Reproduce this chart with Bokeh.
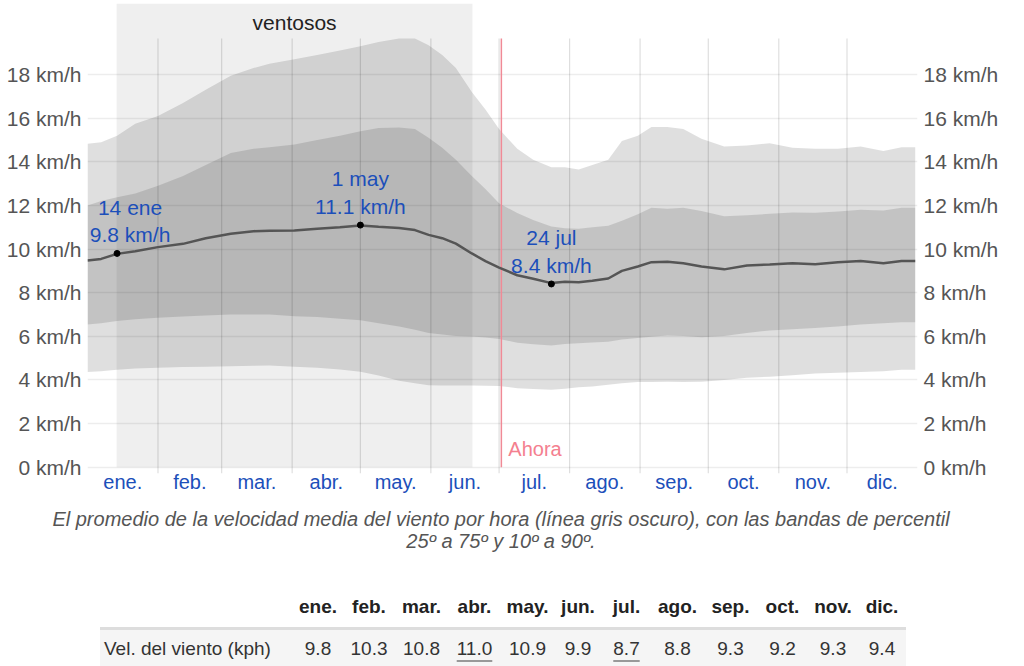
from bokeh.plotting import figure
from bokeh.models import Range1d, FixedTicker, Div, LinearAxis, PrintfTickFormatter, CustomJSTickFormatter
from bokeh.layouts import column
from bokeh.embed import file_html
from bokeh.resources import INLINE
from bokeh.core.properties import value

# ---------------- data ----------------
days = [0, 6, 13, 21, 31, 42, 52, 63, 73, 80, 91, 101, 111, 120, 128, 137, 144, 150,
        156, 162, 169, 175, 181, 189, 196, 204, 210, 216, 222, 229, 235, 242, 248, 255,
        262, 270, 280, 290, 300, 310, 320, 330, 340, 350, 358, 364]
p90 = [14.83, 14.9, 15.2, 15.75, 16.1, 16.7, 17.3, 17.95, 18.3, 18.5, 18.7, 18.9, 19.1,
       19.3, 19.5, 19.65, 19.65, 19.35, 18.9, 18.3, 17.2, 16.4, 15.5, 14.6, 14.1, 13.75,
       13.75, 13.65, 13.85, 14.1, 14.95, 15.2, 15.6, 15.6, 15.5, 15.06, 14.7, 14.75, 14.85,
       14.65, 14.6, 14.6, 14.7, 14.5, 14.67, 14.67]
p75 = [12.0, 12.2, 12.38, 12.55, 12.9, 13.35, 13.85, 14.4, 14.6, 14.67, 14.8, 15.0, 15.2,
       15.4, 15.55, 15.58, 15.5, 15.1, 14.65, 14.1, 13.35, 12.75, 12.1, 11.65, 11.33, 11.04,
       10.95, 10.93, 11.0, 11.07, 11.3, 11.6, 11.9, 11.85, 11.9, 11.75, 11.5, 11.55, 11.62,
       11.68, 11.66, 11.72, 11.8, 11.77, 11.89, 11.89]
mean = [9.48, 9.55, 9.78, 9.9, 10.09, 10.24, 10.5, 10.7, 10.82, 10.84, 10.85, 10.93, 11.0,
        11.08, 11.02, 10.97, 10.87, 10.65, 10.5, 10.25, 9.8, 9.45, 9.15, 8.8, 8.64, 8.44,
        8.5, 8.48, 8.55, 8.65, 9.0, 9.2, 9.4, 9.42, 9.35, 9.2, 9.07, 9.25, 9.29, 9.35, 9.3,
        9.4, 9.45, 9.35, 9.45, 9.45]
p25 = [6.54, 6.6, 6.7, 6.78, 6.85, 6.91, 6.95, 7.0, 7.0, 7.0, 6.92, 6.88, 6.8, 6.74, 6.6,
       6.45, 6.3, 6.15, 6.08, 6.02, 5.99, 5.95, 5.88, 5.7, 5.64, 5.58, 5.65, 5.68, 5.72, 5.75,
       5.85, 5.92, 5.98, 6.04, 6.02, 5.96, 6.02, 6.15, 6.27, 6.32, 6.38, 6.45, 6.54, 6.6,
       6.65, 6.65]
p10 = [4.36, 4.4, 4.47, 4.52, 4.56, 4.59, 4.61, 4.63, 4.65, 4.66, 4.6, 4.56, 4.48, 4.38, 4.2,
       3.96, 3.85, 3.76, 3.74, 3.75, 3.75, 3.73, 3.72, 3.62, 3.58, 3.55, 3.6, 3.66, 3.7, 3.78,
       3.85, 3.9, 3.9, 3.92, 3.9, 3.92, 4.0, 4.1, 4.15, 4.22, 4.3, 4.33, 4.36, 4.4, 4.47, 4.47]

month_names = ["ene.", "feb.", "mar.", "abr.", "may.", "jun.", "jul.", "ago.", "sep.",
               "oct.", "nov.", "dic."]
month_lengths = [31, 28, 31, 30, 31, 30, 31, 31, 30, 31, 30, 31]
y_ticks = [0, 2, 4, 6, 8, 10, 12, 14, 16, 18]

windy_start = 12.8
windy_end = 169.3
windy_label = "ventosos"
now_day = 182
now_label = "Ahora"

ann_days = [13, 120, 204]
ann_vals = [9.8, 11.1, 8.4]
ann_labels = ["14 ene\n9.8 km/h", "1 may\n11.1 km/h", "24 jul\n8.4 km/h"]
ann_xoff = [13, 0, 0]

table_label = "Vel. del viento (kph)"
table_vals = [9.8, 10.3, 10.8, 11.0, 10.9, 9.9, 8.7, 8.8, 9.3, 9.2, 9.3, 9.4]

caption_l1 = ("El promedio de la velocidad media del viento por hora (línea gris oscuro), "
              "con las bandas de percentil")
caption_l2 = "25º a 75º y 10º a 90º."

# ---------------- derived ----------------
month_starts = []
acc = 0
for L in month_lengths:
    month_starts.append(acc)
    acc += L
month_mids = [s + L / 2 for s, L in zip(month_starts, month_lengths)]
boundaries = month_starts[1:]
top_val = max(p90)

FONT = "Liberation Sans"
AX_COLOR = "#555555"
BLUE = "#1c4fba"

y_lo, y_hi = -0.29, 21.26
p = figure(frame_width=830, frame_height=470, x_range=Range1d(0, 365), y_range=Range1d(y_lo, y_hi),
           output_backend="svg", toolbar_location=None,
           min_border_left=87, min_border_right=107, min_border_top=3, min_border_bottom=30)
p.outline_line_color = None
p.background_fill_color = "white"
p.border_fill_color = "white"

# grid
p.xgrid.visible = False
p.ygrid.ticker = FixedTicker(ticks=y_ticks)
p.ygrid.grid_line_color = "#000000"
p.ygrid.grid_line_alpha = 0.07
p.ygrid.grid_line_width = 1.5

def style_y(ax):
    ax.ticker = FixedTicker(ticks=y_ticks)
    ax.formatter = PrintfTickFormatter(format="%d km/h")
    ax.axis_line_color = None
    ax.major_tick_line_color = None
    ax.minor_tick_line_color = None
    ax.major_tick_out = 0
    ax.major_tick_in = 0
    ax.minor_tick_out = 0
    ax.major_label_text_font = FONT
    ax.major_label_text_font_size = "21px"
    ax.major_label_text_color = AX_COLOR
    ax.major_label_standoff = 6

style_y(p.yaxis[0])
ry = LinearAxis()
style_y(ry)
p.add_layout(ry, "right")

xa = p.xaxis[0]
xa.ticker = FixedTicker(ticks=month_mids)
xa.formatter = CustomJSTickFormatter(args=dict(mids=month_mids, names=month_names),
                                     code="const i = mids.indexOf(tick); return i >= 0 ? names[i] : '';")
xa.axis_line_color = None
xa.major_tick_line_color = None
xa.minor_tick_line_color = None
xa.major_tick_out = 0
xa.major_tick_in = 0
xa.minor_tick_out = 0
xa.major_label_text_font = FONT
xa.major_label_text_font_size = "20px"
xa.major_label_text_color = BLUE
xa.major_label_standoff = -3

# windy season band
p.quad(left=[windy_start], right=[windy_end], bottom=[0], top=[y_hi],
       fill_color="#000000", fill_alpha=0.063, line_color=None)

# percentile bands
p.varea(x=days, y1=p10, y2=p90, fill_color="#000000", fill_alpha=0.125)
p.varea(x=days, y1=p25, y2=p75, fill_color="#000000", fill_alpha=0.12)

# month boundary lines
p.segment(x0=boundaries, y0=[y_lo] * len(boundaries), x1=boundaries, y1=[top_val] * len(boundaries),
          line_color="#000000", line_alpha=0.13, line_width=1.2)

# now line
p.segment(x0=[now_day], y0=[0], x1=[now_day], y1=[top_val], line_color="#f08a96", line_width=1.5)
p.text(x=[now_day], y=[0], text=[now_label], x_offset=7, y_offset=-7, text_align="left",
       text_baseline="bottom", text_font=value(FONT), text_font_size="20px",
       text_color="#f4808f")

# mean line
p.line(days, mean, line_color="#555555", line_width=2.5)
p.scatter(ann_days, ann_vals, size=6, color="black")

# annotation halo (white outline underneath) then the blue text on top
p.text(x=ann_days, y=ann_vals, text=ann_labels, x_offset=ann_xoff, y_offset=-7,
       text_align="center", text_baseline="bottom", text_font=value(FONT), text_font_size="21px",
       text_color="white", text_alpha=0.0, text_outline_color="white", text_line_height=1.2)
p.text(x=ann_days, y=ann_vals, text=ann_labels, x_offset=ann_xoff, y_offset=-7,
       text_align="center", text_baseline="bottom", text_font=value(FONT), text_font_size="21px",
       text_color=BLUE, text_line_height=1.2)

p.text(x=[(windy_start + windy_end) / 2], y=[y_hi], text=[windy_label], y_offset=19,
       text_align="center", text_baseline="middle", text_font=value(FONT),
       text_font_size="21px", text_color="#222222")

# ---------------- caption ----------------
caption = Div(text=(
    f'<div style="font-family:\'{FONT}\';font-style:italic;font-size:20px;color:#555;'
    f'text-align:center;line-height:22px;padding-top:5px;width:1002px;height:78px;overflow:hidden;">'
    f'{caption_l1}<br>{caption_l2}</div>'), width=1008, height=83, margin=0)

# ---------------- table ----------------
col_widths = [193, 50, 52, 53, 53, 53, 48, 49, 53, 53, 51, 50, 48]
vmax = max(table_vals)
vmin = min(table_vals)
cols = "".join(f'<col style="width:{w}px">' for w in col_widths)
head = '<td></td>' + "".join(f'<td style="text-align:center;font-weight:bold;color:#222">{m}</td>'
                            for m in month_names)
cells = []
for v in table_vals:
    txt = f"{v:.1f}"
    if v == vmax or v == vmin:
        txt = (f'<span style="text-decoration:underline;text-decoration-color:#999;'
               f'text-underline-offset:5px;text-decoration-thickness:1.5px">{txt}</span>')
    cells.append(f'<td style="text-align:center;border-top:3px solid #dddddd">{txt}</td>')
row = (f'<td style="text-align:left;padding-left:4px;border-top:3px solid #dddddd">{table_label}</td>'
       + "".join(cells))
table_html = (
    f'<div style="height:80px;overflow:hidden;">'
    f'<table style="border-collapse:collapse;table-layout:fixed;width:{sum(col_widths)}px;'
    f'margin-left:100px;font-family:\'{FONT}\';font-size:19px;color:#333;">'
    f'<colgroup>{cols}</colgroup>'
    f'<tr style="height:42px">{head}</tr>'
    f'<tr style="height:40px;background:#f5f5f5">{row}</tr>'
    f'</table></div>')
table = Div(text=table_html, width=1008, height=80, margin=0)

layout = column(p, caption, table)
open("out.html", "w").write(file_html(layout, INLINE))
